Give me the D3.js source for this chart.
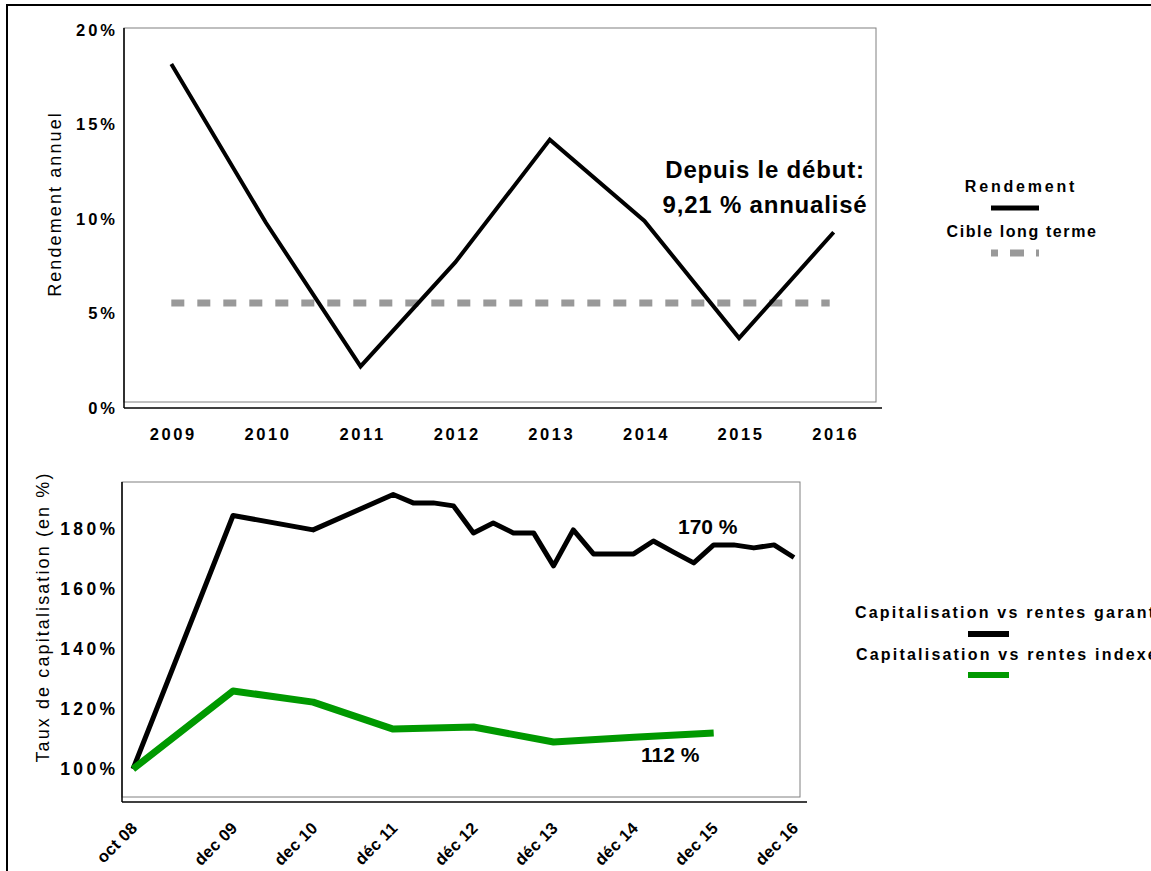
<!DOCTYPE html>
<html>
<head>
<meta charset="utf-8">
<script src="https://cdn.jsdelivr.net/npm/d3@7"></script>
<style>
  body { margin: 0; background: #fff; }
  svg { display: block; font-family: "Liberation Sans", Arial, sans-serif; }
</style>
</head>
<body>
<div id="viz-container"></div>
<script>
// ---- data ----
let years = ["2009", "2010", "2011", "2012", "2013", "2014", "2015", "2016"];
let rendement = [18.2, 9.8, 2.2, 7.7, 14.2, 9.9, 3.7, 9.3];
let cibleLongTerme = 5.55;
let rendTicks = [0, 5, 10, 15, 20];

let capDatesGaranties = ["2008-09", "2009-12", "2010-12", "2011-12",
  "2012-03", "2012-06", "2012-09", "2012-12",
  "2013-03", "2013-06", "2013-09", "2013-12",
  "2014-03", "2014-06", "2014-09", "2014-12",
  "2015-03", "2015-06", "2015-09", "2015-12",
  "2016-03", "2016-06", "2016-09", "2016-12"];
let capGaranties = [100, 184.5, 179.7, 191.5,
  188.7, 188.7, 187.7, 178.7,
  182, 178.7, 178.7, 167.7,
  179.7, 171.7, 171.7, 171.7,
  176, 172.3, 168.7, 174.7,
  174.7, 173.7, 174.7, 170.5];
let capDatesIndexees = ["2008-09", "2009-12", "2010-12", "2011-12", "2012-12", "2013-12", "2014-12", "2015-12"];
let capIndexees = [100, 126, 122.3, 113.3, 114, 109, 110.6, 112];
let capTickDates = ["2008-09", "2009-12", "2010-12", "2011-12", "2012-12", "2013-12", "2014-12", "2015-12", "2016-12"];
let capTickLabels = ["oct 08", "dec 09", "dec 10", "déc 11", "déc 12", "déc 13", "déc 14", "dec 15", "dec 16"];
let capTicks = [100, 120, 140, 160, 180];

let w = 1151, h = 871;
let viz = d3.select("#viz-container")
    .append("svg")
    .attr("width", w)
    .attr("height", h);

// outer frame
viz.append("rect")
    .attr("x", 7).attr("y", 5)
    .attr("width", 1300).attr("height", 1000)
    .attr("fill", "none").attr("stroke", "black").attr("stroke-width", 2);

// ================= top chart =================
let xTop = d3.scaleBand().domain(years).range([124, 881]);
let yTop = d3.scaleLinear().domain([0, 20]).range([408, 30]);

// plot box
viz.append("rect")
    .attr("x", 124).attr("y", 28)
    .attr("width", 752).attr("height", 374)
    .attr("fill", "none").attr("stroke", "#808080").attr("stroke-width", 1);
viz.append("line").attr("x1", 124).attr("x2", 124).attr("y1", 28).attr("y2", yTop(0))
    .attr("stroke", "black").attr("stroke-width", 1.5);
viz.append("line").attr("x1", 124).attr("x2", 882).attr("y1", yTop(0)).attr("y2", yTop(0))
    .attr("stroke", "black").attr("stroke-width", 1.5);

let yTopAxis = viz.append("g")
    .attr("transform", "translate(124,0)")
    .call(d3.axisLeft(yTop).tickValues(rendTicks).tickSize(0).tickPadding(6).tickFormat(d => d + "%"));
yTopAxis.select(".domain").remove();
yTopAxis.selectAll("text")
    .attr("font-size", 16.5).attr("font-weight", "bold").attr("letter-spacing", 3)
    .attr("font-family", "Liberation Sans, Arial, sans-serif").attr("fill", "black");

let xTopAxis = viz.append("g")
    .attr("transform", "translate(2," + yTop(0) + ")")
    .call(d3.axisBottom(xTop).tickSize(0).tickPadding(20));
xTopAxis.select(".domain").remove();
xTopAxis.selectAll("text")
    .attr("font-size", 16.5).attr("font-weight", "bold").attr("letter-spacing", 2.6)
    .attr("font-family", "Liberation Sans, Arial, sans-serif").attr("fill", "black");

viz.append("text")
    .attr("transform", "translate(61,204) rotate(-90)")
    .attr("text-anchor", "middle")
    .attr("font-size", 18).attr("letter-spacing", 2.1)
    .text("Rendement annuel");

// target line
viz.append("path")
    .datum(years)
    .attr("fill", "none")
    .attr("stroke", "#999999")
    .attr("stroke-width", 7)
    .attr("stroke-dasharray", "13,13")
    .attr("d", d3.line().x(d => xTop(d) + xTop.bandwidth() / 2).y(() => yTop(cibleLongTerme))([years[0], years[years.length - 1]]).replace(/L([\d.]+)/, (m, x) => "L" + (+x - 4)));

// return line
let lineTop = d3.line()
    .x((d, i) => xTop(years[i]) + xTop.bandwidth() / 2)
    .y(d => yTop(d));
viz.append("path")
    .datum(rendement)
    .attr("fill", "none")
    .attr("stroke", "black")
    .attr("stroke-width", 4)
    .attr("d", lineTop);

viz.append("text").attr("x", 765).attr("y", 178)
    .attr("text-anchor", "middle").attr("font-size", 24).attr("font-weight", "bold").attr("letter-spacing", 0.8)
    .text("Depuis le début:");
viz.append("text").attr("x", 765).attr("y", 213)
    .attr("text-anchor", "middle").attr("font-size", 24).attr("font-weight", "bold").attr("letter-spacing", 0.8)
    .text("9,21 % annualisé");

// legend top
viz.append("text").attr("x", 1021).attr("y", 192)
    .attr("text-anchor", "middle").attr("font-size", 16).attr("font-weight", "bold").attr("letter-spacing", 2.8)
    .text("Rendement");
viz.append("line").attr("x1", 991).attr("x2", 1039).attr("y1", 208).attr("y2", 208)
    .attr("stroke", "black").attr("stroke-width", 5);
viz.append("text").attr("x", 1022).attr("y", 237)
    .attr("text-anchor", "middle").attr("font-size", 16).attr("font-weight", "bold").attr("letter-spacing", 1.6)
    .text("Cible long terme");
viz.append("line").attr("x1", 991).attr("x2", 1039).attr("y1", 253).attr("y2", 253)
    .attr("stroke", "#999999").attr("stroke-width", 7)
    .attr("stroke-dasharray", "14,12").attr("stroke-dashoffset", 7);

// ================= bottom chart =================
let parseMonth = d3.timeParse("%Y-%m");
let xBot = d3.scaleTime().domain([parseMonth("2008-09"), parseMonth("2016-12")]).range([133, 794]);
let yBot = d3.scaleLinear().domain([100, 180]).range([769, 529]);

viz.append("rect")
    .attr("x", 122).attr("y", 482)
    .attr("width", 678).attr("height", 315)
    .attr("fill", "none").attr("stroke", "#808080").attr("stroke-width", 1);
viz.append("line").attr("x1", 122).attr("x2", 122).attr("y1", 482).attr("y2", 802)
    .attr("stroke", "black").attr("stroke-width", 1.5);
viz.append("line").attr("x1", 122).attr("x2", 807).attr("y1", 802).attr("y2", 802)
    .attr("stroke", "black").attr("stroke-width", 1.5);

let yBotAxis = viz.append("g")
    .attr("transform", "translate(122,0)")
    .call(d3.axisLeft(yBot).tickValues(capTicks).tickSize(0).tickPadding(3.5).tickFormat(d => d + "%"));
yBotAxis.select(".domain").remove();
yBotAxis.selectAll("text")
    .attr("font-size", 17.5).attr("font-weight", "bold").attr("letter-spacing", 3.4)
    .attr("font-family", "Liberation Sans, Arial, sans-serif").attr("fill", "black");

let xBotAxis = viz.append("g")
    .attr("transform", "translate(0,802)")
    .call(d3.axisBottom(xBot)
        .tickValues(capTickDates.map(parseMonth))
        .tickSize(0)
        .tickFormat((d, i) => capTickLabels[i]));
xBotAxis.select(".domain").remove();
xBotAxis.selectAll("text")
    .attr("font-size", 16.5).attr("font-weight", "bold").attr("letter-spacing", 0.3)
    .attr("font-family", "Liberation Sans, Arial, sans-serif").attr("fill", "black")
    .attr("text-anchor", "end")
    .attr("x", 0).attr("y", 0).attr("dy", 0)
    .attr("transform", "translate(5,27) rotate(-45)");

viz.append("text")
    .attr("transform", "translate(49,617) rotate(-90)")
    .attr("text-anchor", "middle")
    .attr("font-size", 18).attr("letter-spacing", 2.1)
    .text("Taux de capitalisation (en %)");

let garData = capDatesGaranties.map((d, i) => ({date: parseMonth(d), value: capGaranties[i]}));
let idxData = capDatesIndexees.map((d, i) => ({date: parseMonth(d), value: capIndexees[i]}));
let lineBot = d3.line().x(d => xBot(d.date)).y(d => yBot(d.value));

viz.append("path")
    .datum(garData)
    .attr("fill", "none")
    .attr("stroke", "black")
    .attr("stroke-width", 5)
    .attr("stroke-linejoin", "round")
    .attr("d", lineBot);
viz.append("path")
    .datum(idxData)
    .attr("fill", "none")
    .attr("stroke", "#009900")
    .attr("stroke-width", 7)
    .attr("stroke-linejoin", "round")
    .attr("d", lineBot);

viz.append("text").attr("x", 678).attr("y", 534)
    .attr("font-size", 21).attr("font-weight", "bold")
    .text("170 %");
viz.append("text").attr("x", 641).attr("y", 762)
    .attr("font-size", 21).attr("font-weight", "bold")
    .text("112 %");

// legend bottom (cut at the right edge, as in the original)
viz.append("text").attr("x", 855).attr("y", 618)
    .attr("font-size", 16).attr("font-weight", "bold").attr("letter-spacing", 2.2)
    .text("Capitalisation vs rentes garanties");
viz.append("line").attr("x1", 968).attr("x2", 1009).attr("y1", 634).attr("y2", 634)
    .attr("stroke", "black").attr("stroke-width", 6);
viz.append("text").attr("x", 856).attr("y", 660)
    .attr("font-size", 16).attr("font-weight", "bold").attr("letter-spacing", 2.2)
    .text("Capitalisation vs rentes indexées");
viz.append("line").attr("x1", 968).attr("x2", 1009).attr("y1", 675).attr("y2", 675)
    .attr("stroke", "#009900").attr("stroke-width", 6);
</script>
</body>
</html>
